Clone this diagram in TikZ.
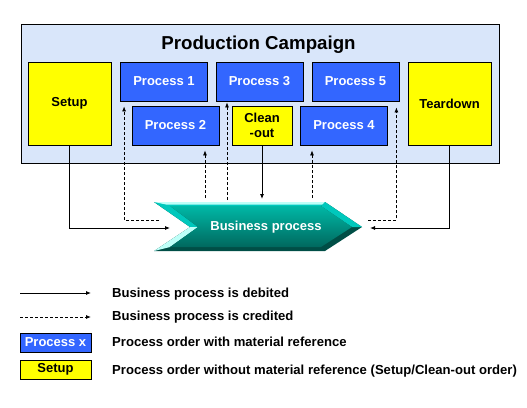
\documentclass[tikz,border=0pt]{standalone}
\usepackage{fontspec}
\setmainfont{Liberation Sans}
\usetikzlibrary{arrows.meta,calc}

\definecolor{campbg}{RGB}{217,230,250}
\definecolor{procblue}{RGB}{51,102,255}
\definecolor{setupyel}{RGB}{255,255,0}
\definecolor{bplight}{RGB}{190,255,248}
\definecolor{bpbevel}{RGB}{0,200,188}
\definecolor{bpdark}{RGB}{0,78,70}
\definecolor{bpfacetop}{RGB}{0,184,166}
\definecolor{bpfacebot}{RGB}{0,104,94}

\tikzset{
	box/.style={draw=black,line width=0.8pt,inner sep=0pt,minimum height=39pt,
		font=\bfseries\fontsize{13}{15.5}\selectfont,align=center},
	proc/.style={box,fill=procblue,text=white,minimum width=87pt},
	nomat/.style={box,fill=setupyel,text=black},
	debit/.style={line width=0.8pt,-{Latex[length=5pt,width=4pt]}},
	credit/.style={debit,dash pattern=on 3pt off 2pt},
	legtext/.style={anchor=base west,inner sep=0pt,font=\bfseries\fontsize{13.1}{15}\selectfont},
}

\begin{document}
\begin{tikzpicture}[x=1pt,y=-1pt]
	\useasboundingbox (0,0) rectangle (527,407);
	
	\draw[line width=0.8pt][black][fill=campbg](21,24) rectangle (499,163);
	\node[anchor=base,inner sep=0pt,font=\bfseries\fontsize{18.7}{22}\selectfont] (title) at (258.5,49) {Production Campaign};
	
	\node[nomat,minimum width=83pt,minimum height=83pt] (setup) at (69.5,103.5) {Setup};
	\node[proc] (p1) at (164,81.5) {Process 1};
	\node[proc] (p2) at (175.5,125.5) {Process 2};
	\node[proc] (p3) at (259.5,81.5) {Process 3};
	\node[nomat,minimum width=60pt] (clean) at (262,125.5) {Clean\\-out};
	\node[proc] (p5) at (355.5,81.5) {Process 5};
	\node[proc] (p4) at (344,125.5) {Process 4};
	\node[nomat,minimum width=83pt,minimum height=83pt] (teardown) at (449.5,103.5) {Teardown};
	
	\fill[bpdark](154,202)--(325,202)--(362,227)--(325,251)--(154,251)--(190,227)--cycle;
	\fill[bpbevel](154,202)--(325,202)--(321,206)--(170,206)--(198,227)--(190,227)--cycle;
	\fill[bplight](154,202)--(325,202)--(323,204.5)--(166,204.5)--cycle;
	\fill[bplight](190,227)--(198,227)--(170,247)--(154,251)--cycle;
	\fill[bpbevel](325,202)--(362,227)--(352,227)--(321,206)--cycle;
	\shade[top color=bpfacetop,bottom color=bpfacebot](170,206)--(321,206)--(352,227)--(321,247)--(170,247)--(198,227)--cycle;
	\node[text=white,inner sep=0pt,font=\bfseries\fontsize{13}{15}\selectfont] (bp) at (266,227) {Business process};
	
	\coordinate (inL) at (170,228);
	\coordinate (inR) at (370,228);
	\coordinate (outL) at (159,220);
	\coordinate (outR) at (368,220);
	\coordinate (top2) at (205,198);
	\coordinate (top3) at (227,200);
	\coordinate (topc) at (262,199);
	\coordinate (top4) at (312,198);
	
	\draw[debit](setup.south) |- (inL);
	\draw[debit](teardown.south) |- (inR);
	\draw[debit](clean.south) -- (clean.south |- topc);
	
	\draw[credit,shorten >=5pt](outL) -| ([xshift=4pt]p1.south west);
	\draw[credit,shorten >=5pt](top2) -- (top2 |- p2.south);
	\draw[credit,shorten >=1pt](top3) -- (top3 |- p3.south);
	\draw[credit,shorten >=5pt](top4) -- (top4 |- p4.south);
	\draw[credit,shorten >=6pt](outR) -| ([xshift=-3pt]p5.south east);
	
	\coordinate (l1a) at (20,293);
	\coordinate (l1b) at (91,293);
	\coordinate (l2a) at (20,317);
	\coordinate (l2b) at (91,317);
	\draw[debit](l1a) -- (l1b);
	\draw[credit](l2a) -- (l2b);
	\node[proc,minimum width=71pt,minimum height=19pt] (legproc) at (55.5,342.5) {Process x};
	\node[nomat,minimum width=71pt,minimum height=19pt] (legsetup) at (55.5,369.5) {Setup};
	
	\node[legtext] (t1) at (112,297.3) {Business process is debited};
	\node[legtext] (t2) at (112,320.7) {Business process is credited};
	\node[legtext] (t3) at (112,346.7) {Process order with material reference};
	\node[legtext] (t4) at (112,374) {Process order without material reference (Setup/Clean-out order)};
\end{tikzpicture}
\end{document}
